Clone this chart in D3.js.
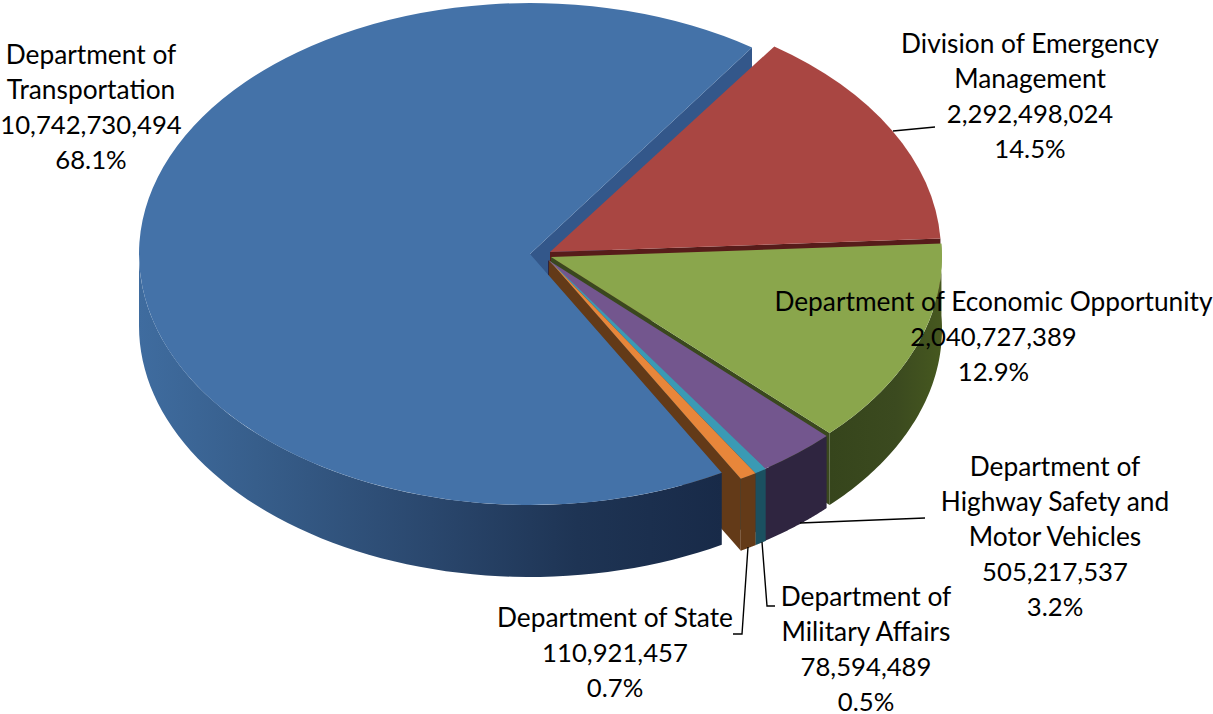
<!DOCTYPE html>
<html><head><meta charset="utf-8">
<script src="https://cdn.jsdelivr.net/npm/d3@7"></script>
<style>html,body{margin:0;padding:0;background:#fff}svg{display:block}</style>
</head><body><svg id="c" width="1213" height="714"></svg>
<script>
// Data (pie order, clockwise from the Emergency Management slice)
const categories = ["Division of Emergency Management","Department of Economic Opportunity","Department of Highway Safety and Motor Vehicles","Department of Military Affairs","Department of State","Department of Transportation"];
const values = [2292498024,2040727389,505217537,78594489,110921457,10742730494];
const percents = ["14.5%","12.9%","3.2%","0.5%","0.7%","68.1%"];
const wrapped = [["Division of Emergency","Management"],["Department of Economic Opportunity"],["Department of","Highway Safety and","Motor Vehicles"],["Department of","Military Affairs"],["Department of State"],["Department of","Transportation"]];

// Styles and layout
const topColors  = ["#A94642","#8AA64C","#73568E","#3A9AB4","#E8863A","#4472A8"];
const wallColors = ["#571C1A","#3A481E","#2F2540","#1B5060","#633A18","#33578A"];
const centers = [[550,252],[551,257],[548,260],[549,260],[549,260],[530,254]];
const labelX = [1030,993.5,1055,866,615,91];
const labelY = [44,302,467,597,618,55];
const lineGap = 34.9;
const leaders = [[[893,131],[935,127]],[[800,523],[925,518]],[[762,542],[767,606],[775,606]],[[748,547],[742,634],[733,634]]];
const rx = 391, ry = 251, depth = 72, startDeg = 34.6;
const textSize = 26.3, numberSize = 25.7;
const fmt = d3.format(",");
const rad = Math.PI/180;

const svg = d3.select("#c");
const defs = svg.append("defs");
const grad = defs.append("linearGradient").attr("id","blueWall").attr("gradientUnits","userSpaceOnUse")
  .attr("x1",139).attr("x2",723).attr("y1",0).attr("y2",0);
[[0,"#3F6C9F"],[0.2,"#375E8B"],[0.5,"#2A476D"],[0.75,"#1E3454"],[1,"#182A48"]].forEach(s=>grad.append("stop").attr("offset",s[0]).attr("stop-color",s[1]));
const gGrad = defs.append("linearGradient").attr("id","greenWall").attr("gradientUnits","userSpaceOnUse")
  .attr("x1",830).attr("x2",941).attr("y1",0).attr("y2",0);
[[0,"#36451C"],[0.6,"#3B4A1F"],[1,"#46581F"]].forEach(s=>gGrad.append("stop").attr("offset",s[0]).attr("stop-color",s[1]));

const pie = d3.pie().sort(null).value(d=>d)
  .startAngle(startDeg*rad).endAngle((startDeg+360)*rad);
// 3D perspective of the original pushes near-side angles slightly
const warp = d3.scaleLinear()
  .domain([34.6,87,145,270,394.6].map(d=>d*rad))
  .range([35,87,146.3,270,394.6].map(d=>d*rad));
const slices = pie(values).map(s=>Object.assign({},s,{startAngle:warp(s.startAngle),endAngle:warp(s.endAngle)}));
const arc = d3.arc().innerRadius(0).outerRadius(rx);
const px = (i,t)=>centers[i][0]+rx*Math.sin(t);
const py = (i,t)=>centers[i][1]-ry*Math.cos(t);

function radialWall(i){
  const t=slices[i].endAngle, [cx,cy]=centers[i];
  const pts=[[cx,cy],[px(i,t),py(i,t)],[px(i,t),py(i,t)+depth],[cx,cy+depth]];
  svg.append("path").attr("d",d3.line()(pts)+"Z").attr("fill",wallColors[i]);
}
function outerWall(i,a0,a1,fill){
  const ts=d3.range(0,61).map(k=>a0+(a1-a0)*k/60);
  const area=d3.area().x(t=>px(i,t)).y0(t=>py(i,t)).y1(t=>py(i,t)+depth);
  svg.append("path").attr("d",area(ts)).attr("fill",fill||wallColors[i]);
}
function topFace(i){
  svg.append("g").attr("transform",`translate(${centers[i][0]},${centers[i][1]}) scale(1,${ry/rx})`)
    .append("path").attr("d",arc(slices[i])).attr("fill",topColors[i]);
}
const B=5;
// back to front
[B,0,1,2,3,4].forEach(radialWall);
outerWall(B,slices[B].startAngle,Math.PI*1.5,"url(#blueWall)");
outerWall(1,slices[1].startAngle,slices[1].endAngle,"url(#greenWall)");
outerWall(2,slices[2].startAngle,slices[2].endAngle);
outerWall(3,slices[3].startAngle,slices[3].endAngle);
outerWall(4,slices[4].startAngle,slices[4].endAngle);
[B,0,1,2,3,4].forEach(topFace);

// Leaders
const line=d3.line();
svg.selectAll("path.leader").data(leaders).enter().append("path").attr("class","leader")
  .attr("d",d=>line(d)).attr("fill","none").attr("stroke","#000").attr("stroke-width",1.4);

// Labels
categories.forEach((c,i)=>{
  const lines=[...wrapped[i].map(t=>[t,textSize]),[fmt(values[i]),numberSize],[percents[i],numberSize]];
  svg.append("g").selectAll("text").data(lines).enter().append("text")
    .attr("x",labelX[i]).attr("y",(d,k)=>labelY[i]+k*lineGap)
    .attr("dy","0.35em").attr("text-anchor","middle")
    .attr("font-family","Lato, 'Open Sans', sans-serif").attr("font-size",d=>d[1]).attr("fill","#000")
    .text(d=>d[0]);
});
</script></body></html>
